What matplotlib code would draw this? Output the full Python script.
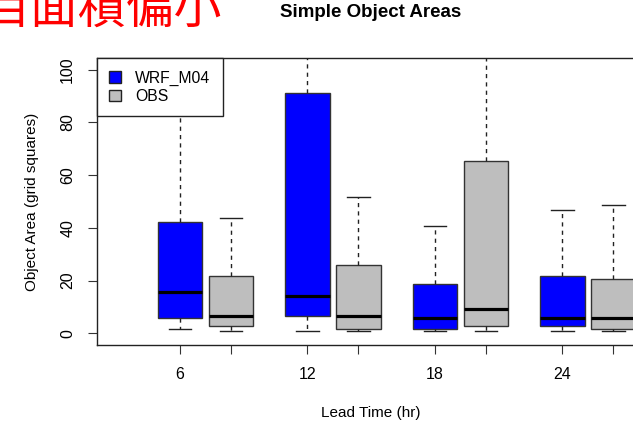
import matplotlib
matplotlib.use("Agg")
import matplotlib.pyplot as plt
from matplotlib.patches import Patch

# ---- data ----
lead_times = ["6", "12", "18", "24"]
series_names = ["WRF_M04", "OBS"]
wrf_whislo = [1.6, 0.9, 0.9, 0.9]
wrf_q1 = [5.9, 6.6, 1.6, 2.8]
wrf_med = [15.6, 14.2, 5.9, 5.9]
wrf_q3 = [42.3, 91.0, 18.7, 21.7]
wrf_whishi = [95.0, 130.0, 40.8, 46.8]
obs_whislo = [0.9, 0.9, 0.9, 0.9]
obs_q1 = [2.8, 1.6, 2.9, 1.6]
obs_med = [6.6, 6.7, 9.2, 5.9]
obs_q3 = [21.7, 25.9, 65.5, 20.6]
obs_whishi = [43.9, 51.8, 120.0, 48.7]
y_ticks = [0, 20, 40, 60, 80, 100]

title = "Simple Object Areas"
xlabel = "Lead Time (hr)"
ylabel = "Object Area (grid squares)"
note = "目面積偏小"

colors = ["#0000FF", "#BEBEBE"]
FONT = ["Liberation Sans", "DejaVu Sans"]

fig = plt.figure(figsize=(6.33, 4.24), dpi=100)
W, H = 633, 424
left_px, right_px, top_px, bot_px = 96.7, 645.0, 58.3, 345.0
ax = fig.add_axes([left_px / W, 1 - bot_px / H,
                   (right_px - left_px) / W, (bot_px - top_px) / H])

def stats(lo, q1, med, q3, hi):
    return [dict(whislo=a, q1=b, med=c, q3=d, whishi=e, fliers=[])
            for a, b, c, d, e in zip(lo, q1, med, q3, hi)]

wrf_stats = stats(wrf_whislo, wrf_q1, wrf_med, wrf_q3, wrf_whishi)
obs_stats = stats(obs_whislo, obs_q1, obs_med, obs_q3, obs_whishi)

n = len(lead_times)
wrf_pos = [1 + 2.5 * i for i in range(n)]
obs_pos = [2 + 2.5 * i for i in range(n)]
bw = 0.873

common = dict(widths=bw, capwidths=bw / 2, patch_artist=True, showfliers=False,
              whiskerprops=dict(color="#222222", linewidth=1.0, linestyle=(0, (3, 3))),
              capprops=dict(color="#222222", linewidth=1.0),
              medianprops=dict(color="black", linewidth=2.3, solid_capstyle="butt"),
              manage_ticks=False)

for st, pos, col in [(wrf_stats, wrf_pos, colors[0]), (obs_stats, obs_pos, colors[1])]:
    ax.bxp(st, positions=pos,
           boxprops=dict(facecolor=col, edgecolor="#333333", linewidth=1.0),
           **common)

ax.set_xlim(-0.634, 10.12)
ax.set_ylim(-4.4, 104.3)

all_pos = sorted(wrf_pos + obs_pos)
labels = []
for p in all_pos:
    labels.append(lead_times[wrf_pos.index(p)] if p in wrf_pos else "")
ax.set_xticks(all_pos)
ax.set_xticklabels(labels, fontsize=11.5, family=FONT)
ax.set_yticks(y_ticks)
ax.set_yticklabels([str(v) for v in y_ticks], fontsize=11.5, family=FONT,
                   rotation=90, va="center")
ax.tick_params(axis="both", length=6.5, width=0.8, color="#333333", pad=9)

for s in ax.spines.values():
    s.set_linewidth(1.0)
    s.set_color("#222222")

ax.set_xlabel(xlabel, fontsize=11, family=FONT)
ax.xaxis.set_label_coords(0.5, (bot_px - 413) / (bot_px - top_px))
ax.xaxis.label.set_va("center")
ax.set_ylabel(ylabel, fontsize=11, family=FONT)
ax.yaxis.set_label_coords((31.7 - left_px) / (right_px - left_px), 0.5)
ax.yaxis.label.set_va("center")

ax.set_title(title, fontsize=13.5, fontweight="bold", family=FONT,
             y=(bot_px - 20.7) / (bot_px - top_px), va="center")

handles = [Patch(facecolor=c, edgecolor="#222222", linewidth=1.0) for c in colors]
leg = ax.legend(handles, series_names, loc="upper left", bbox_to_anchor=(0, 1),
                borderaxespad=0, fancybox=False, framealpha=1, edgecolor="#222222",
                prop=dict(family=FONT, size=11.3), handlelength=0.77, handleheight=0.77,
                handletextpad=0.9, borderpad=0.78, labelspacing=0.2)
leg.get_frame().set_linewidth(1.0)

fig.text(-18 / W, 1 - 23 / H, note, color="red", fontsize=34.5,
         family=["Noto Sans CJK TC", "DejaVu Sans"], ha="left", va="baseline")

fig.savefig("out.png", dpi=100)
